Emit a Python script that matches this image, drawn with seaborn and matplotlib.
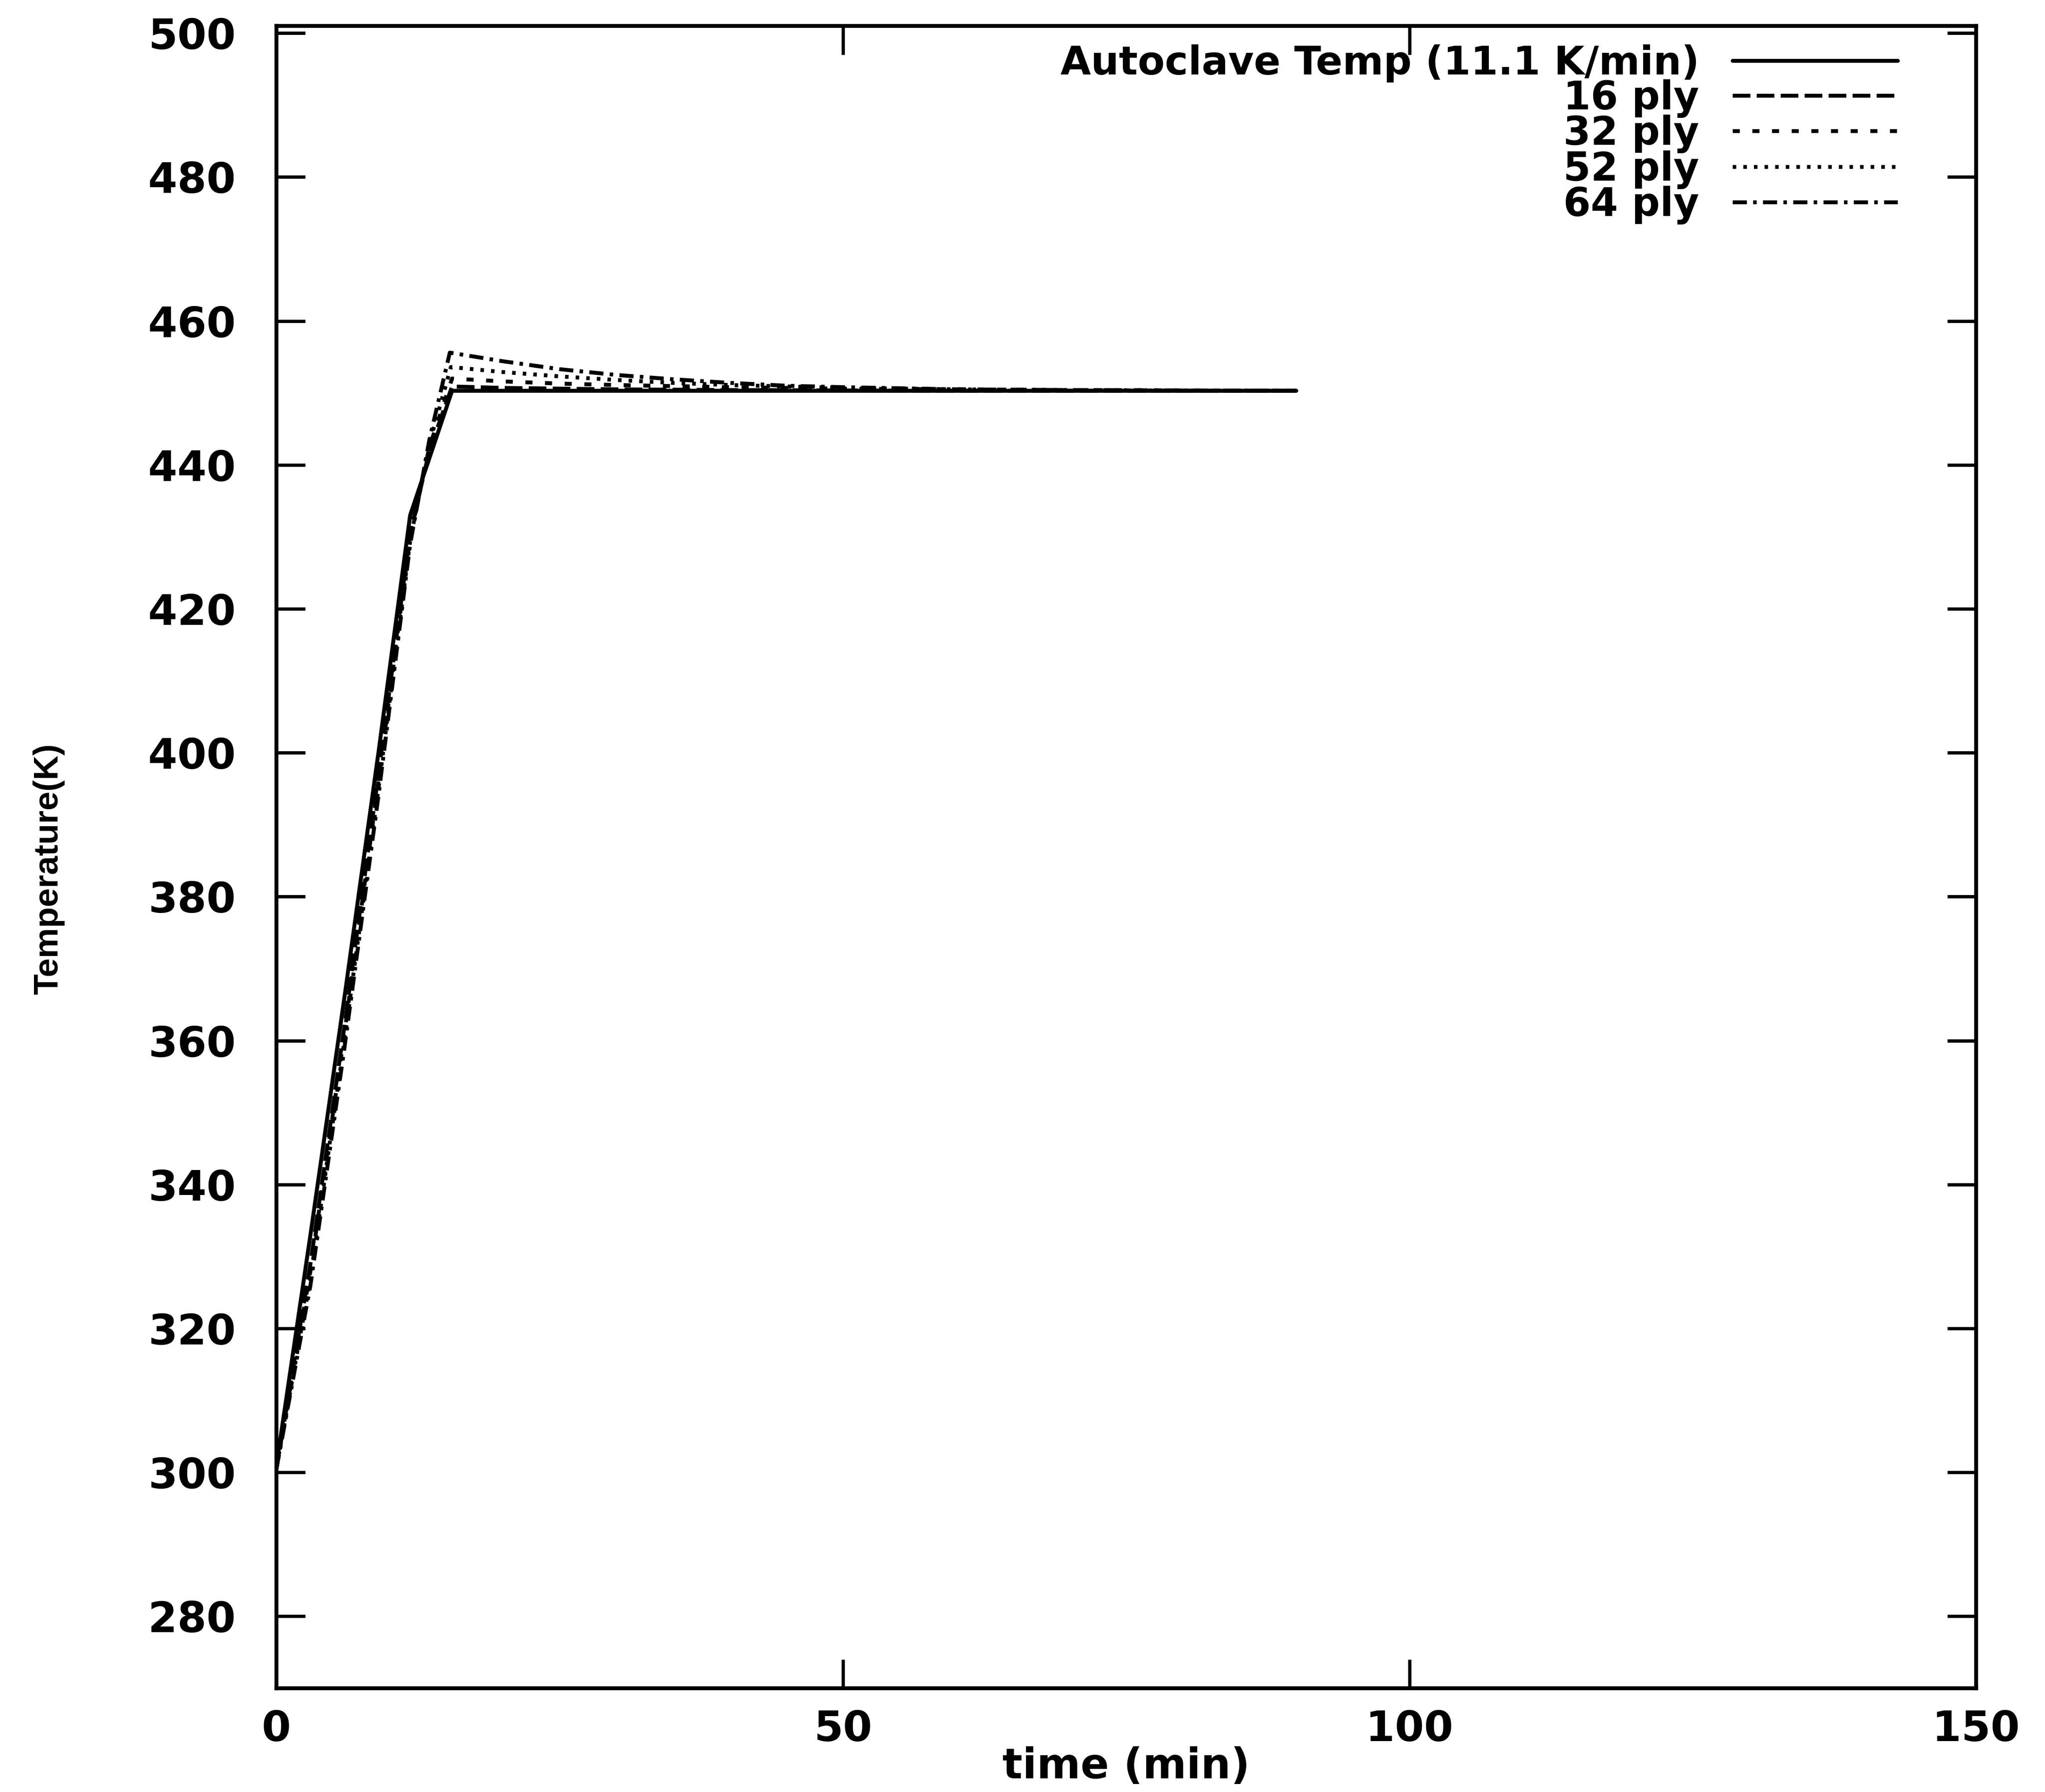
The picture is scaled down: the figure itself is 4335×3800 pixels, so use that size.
import matplotlib
matplotlib.use("Agg")
import matplotlib.pyplot as plt
from matplotlib import font_manager
import numpy as np
import pandas as pd
import seaborn as sns

# ---------------- data ----------------
time_autoclave = [0, 3, 6, 9, 11.8, 15.5, 90]
temp_autoclave = [301, 333, 366, 400, 433, 450.3, 450.3]

time_16ply = [0, 3, 6, 9, 11.8, 13.5, 15.5, 20, 30, 40, 60, 90]
temp_16ply = [300.5, 329, 362, 397, 430.5, 442, 450.9, 450.7, 450.5, 450.4, 450.3, 450.3]

time_32ply = [0, 3, 6, 9, 11.8, 13.5, 15.5, 20, 25, 30, 40, 50, 70, 90]
temp_32ply = [300.5, 328, 361, 396, 430, 442.5, 452.0, 451.6, 451.3, 451.1, 450.8, 450.6, 450.4, 450.3]

time_52ply = [0, 3, 6, 9, 11.8, 13.5, 15.4, 20, 25, 30, 35, 40, 50, 60, 75, 90]
temp_52ply = [300.5, 327, 360, 395, 429.5, 443, 453.6, 452.9, 452.3, 451.8, 451.4, 451.1, 450.7, 450.5, 450.35, 450.3]

time_64ply = [0, 3, 6, 9, 11.8, 13.5, 15.3, 20, 25, 30, 35, 40, 45, 50, 60, 70, 90]
temp_64ply = [300.5, 326, 359, 394, 429, 443.5, 455.6, 454.4, 453.3, 452.5, 451.9, 451.4, 451.0, 450.8, 450.5, 450.4, 450.3]

series_labels = ["Autoclave Temp (11.1 K/min)", "16 ply", "32 ply", "52 ply", "64 ply"]
x_ticks = [0, 50, 100, 150]
y_ticks = [280, 300, 320, 340, 360, 380, 400, 420, 440, 460, 480, 500]
x_label = "time (min)"
y_label = "Temperature(K)"

# ---------------- build long table ----------------
frames = []
for lab, t, v in zip(series_labels,
                     [time_autoclave, time_16ply, time_32ply, time_52ply, time_64ply],
                     [temp_autoclave, temp_16ply, temp_32ply, temp_52ply, temp_64ply]):
    frames.append(pd.DataFrame({"time": t, "temp": v, "series": lab}))
df = pd.concat(frames, ignore_index=True)

# ---------------- style ----------------
sns.set_theme(style="white")
plt.rcParams["font.family"] = ["DejaVu Sans"]
plt.rcParams["text.color"] = "black"
plt.rcParams["axes.labelcolor"] = "black"
plt.rcParams["xtick.color"] = "black"
plt.rcParams["ytick.color"] = "black"
plt.rcParams["axes.edgecolor"] = "black"
plt.rcParams["axes.linewidth"] = 6

fig = plt.figure(figsize=(43.35, 38), dpi=100)
ax = fig.add_axes([586 / 4335, 1 - 3580 / 3800, (4189 - 586) / 4335, (3580 - 55) / 3800])

dash_map = {
    series_labels[0]: "",
    series_labels[1]: (4.5, 1.6),
    series_labels[2]: (1.8, 3.2),
    series_labels[3]: (0.9, 1.8),
    series_labels[4]: (3.6, 1.6, 0.9, 1.6),
}
sns.lineplot(data=df, x="time", y="temp", hue="series", style="series",
             hue_order=series_labels, style_order=series_labels,
             palette=["black"] * 5, dashes=dash_map, linewidth=6,
             sort=False, estimator=None, ax=ax, legend=True)

ax.set_xlim(0, 150)
ax.set_ylim(270, 501)
ax.set_xticks(x_ticks)
ax.set_yticks(y_ticks)
ax.set_xticklabels([str(v) for v in x_ticks])
ax.set_yticklabels([str(v) for v in y_ticks])

ax.tick_params(axis="both", which="major", direction="in", length=44, width=5,
               colors="black", top=True, right=True, bottom=True, left=True,
               labelsize=64)
ax.tick_params(axis="y", pad=62)
ax.tick_params(axis="x", pad=32)
for lbl in ax.get_xticklabels() + ax.get_yticklabels():
    lbl.set_fontweight("bold")
    lbl.set_color("black")

for sp in ax.spines.values():
    sp.set_visible(True)
    sp.set_linewidth(6)
    sp.set_color("black")

ax.set_xlabel(x_label, fontsize=64, fontweight="bold", va="top", color="black")
ax.xaxis.set_label_coords(0.5, -0.035)

avail = {f.name for f in font_manager.fontManager.ttflist}
if "Liberation Sans Narrow" in avail:
    ax.set_ylabel(y_label, fontsize=66, color="black", fontweight="bold",
                  family=["Liberation Sans Narrow", "DejaVu Sans"])
else:
    ax.set_ylabel(y_label, fontsize=52, color="black", fontweight="bold",
                  family=["Liberation Sans", "DejaVu Sans"])
ax.yaxis.set_label_coords(-0.1245, 0.493)

handles, labels = ax.get_legend_handles_labels()
leg = ax.legend(handles, labels, loc="upper right",
                bbox_to_anchor=((4023 - 586) / (4189 - 586), 0.989),
                frameon=False, markerfirst=False,
                prop={"size": 60, "weight": "bold"},
                handlelength=4.2, handletextpad=0.85, labelspacing=-0.08,
                borderaxespad=0, borderpad=0)
for h in leg.get_lines():
    h.set_linewidth(6)
for t in leg.get_texts():
    t.set_color("black")

fig.savefig("out.png", dpi=100, facecolor="white")
